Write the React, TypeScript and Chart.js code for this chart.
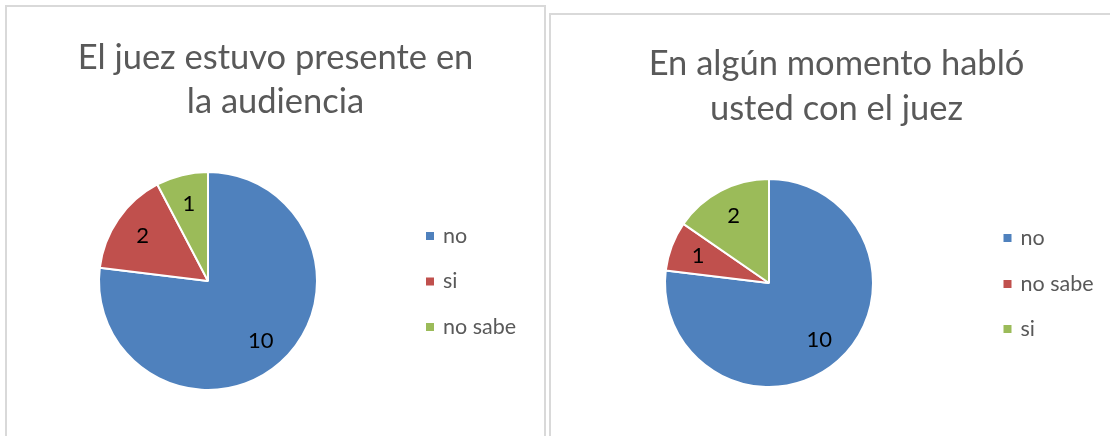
import React, { useEffect, useRef } from "react";
import { Chart, registerables } from "chart.js";

Chart.register(...registerables);

const leftTitle = ["El juez estuvo presente en", "la audiencia"];
const leftCategories = ["no", "si", "no sabe"];
const leftValues = [10, 2, 1];

const rightTitle = ["En algún momento habló", "usted con el juez"];
const rightCategories = ["no", "no sabe", "si"];
const rightValues = [10, 1, 2];

const sliceColors = ["#4F81BD", "#C0504D", "#9BBB59"];

type Cfg = {
  title: string[];
  categories: string[];
  values: number[];
  width: number;
  height: number;
  padding: { left: number; right: number; top: number; bottom: number };
  titleX: number;
  titleY: number[];
  legendX: number;
  legendY: number[];
};

function PieChart(props: Cfg) {
  const ref = useRef<HTMLCanvasElement | null>(null);
  useEffect(() => {
    if (!ref.current) return;
    const overlay = {
      id: "overlay",
      afterDraw(chart: any) {
        const ctx = chart.ctx as CanvasRenderingContext2D;
        ctx.save();
        // title
        ctx.fillStyle = "#595959";
        ctx.font = "34.5px Lato";
        ctx.textAlign = "center";
        ctx.textBaseline = "alphabetic";
        props.title.forEach((t, i) => ctx.fillText(t, props.titleX, props.titleY[i]));
        // legend
        ctx.textAlign = "left";
        ctx.font = "21.5px Lato";
        props.categories.forEach((c, i) => {
          const y = props.legendY[i];
          ctx.fillStyle = sliceColors[i];
          ctx.fillRect(props.legendX - 4, y - 4, 8, 8);
          ctx.fillStyle = "#595959";
          ctx.fillText(c, props.legendX + 13, y + 6.5);
        });
        // data labels
        const meta = chart.getDatasetMeta(0);
        ctx.fillStyle = "#000000";
        ctx.font = "22px Lato";
        ctx.textAlign = "center";
        ctx.textBaseline = "middle";
        meta.data.forEach((arc: any, i: number) => {
          const p = arc.getProps(["x", "y", "startAngle", "endAngle", "outerRadius"], true);
          const mid = (p.startAngle + p.endAngle) / 2;
          const r = p.outerRadius * 0.73;
          ctx.fillText(String(props.values[i]), p.x + Math.cos(mid) * r, p.y + Math.sin(mid) * r);
        });
        ctx.restore();
      },
    };
    const chart = new Chart(ref.current, {
      type: "pie",
      data: {
        labels: props.categories,
        datasets: [
          {
            data: props.values,
            backgroundColor: sliceColors,
            borderColor: "#ffffff",
            borderWidth: 2,
          },
        ],
      },
      options: {
        animation: false,
        responsive: false,
        layout: { padding: props.padding },
        plugins: {
          legend: { display: false },
          tooltip: { enabled: false },
          title: { display: false },
        },
      },
      plugins: [overlay],
    });
    return () => chart.destroy();
  }, []);
  return (
    <canvas
      ref={ref}
      width={props.width}
      height={props.height}
      style={{ width: props.width, height: props.height, display: "block" }}
    />
  );
}

export default function App() {
  return (
    <div
      style={{
        position: "absolute",
        left: 0,
        top: 0,
        width: 1110,
        height: 436,
        overflow: "hidden",
        background: "#ffffff",
      }}
    >
      <div
        style={{
          position: "absolute",
          left: 5,
          top: 5,
          width: 541,
          height: 500,
          border: "2px solid #d9d9d9",
          boxSizing: "border-box",
        }}
      />
      <div
        style={{
          position: "absolute",
          left: 549,
          top: 13,
          width: 600,
          height: 500,
          border: "2px solid #d9d9d9",
          boxSizing: "border-box",
        }}
      />
      <div style={{ position: "absolute", left: 0, top: 0 }}>
        <PieChart
          title={leftTitle}
          categories={leftCategories}
          values={leftValues}
          width={548}
          height={436}
          padding={{ left: 98, right: 230, top: 171, bottom: 45 }}
          titleX={275.5}
          titleY={[69, 113]}
          legendX={430}
          legendY={[236, 281.5, 327]}
        />
      </div>
      <div style={{ position: "absolute", left: 548, top: 0 }}>
        <PieChart
          title={rightTitle}
          categories={rightCategories}
          values={rightValues}
          width={562}
          height={436}
          padding={{ left: 116, right: 236, top: 178, bottom: 48 }}
          titleX={288.5}
          titleY={[75, 120]}
          legendX={459.5}
          legendY={[238, 284, 329]}
        />
      </div>
    </div>
  );
}
